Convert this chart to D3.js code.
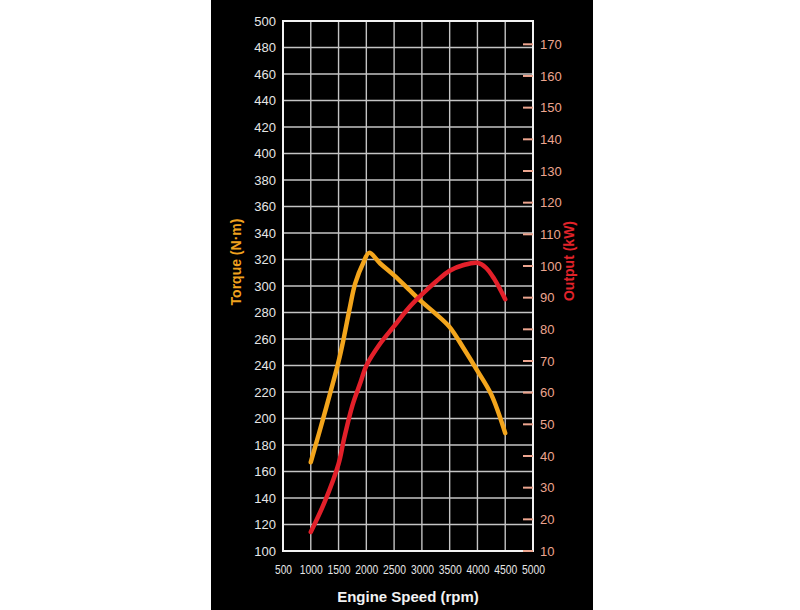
<!DOCTYPE html>
<html><head><meta charset="utf-8">
<script src="https://cdn.jsdelivr.net/npm/d3@7"></script>
<style>
html,body{margin:0;padding:0;background:#fff;}
svg{display:block;font-family:"Liberation Sans",Arial,Helvetica,sans-serif;}
</style></head>
<body>
<svg id="chart" width="800" height="610"></svg>
<script>
// ---- data ----
const rpmTicks = [500,1000,1500,2000,2500,3000,3500,4000,4500,5000];
const torqueTicks = [100,120,140,160,180,200,220,240,260,280,300,320,340,360,380,400,420,440,460,480,500];
const outputTicks = [10,20,30,40,50,60,70,80,90,100,110,120,130,140,150,160,170];
const torqueRpm = [1000,1250,1500,1600,1700,1800,1950,2050,2250,2500,2750,3000,3250,3500,3750,4000,4250,4500];
const torqueNm  = [167,204,243,262,283,302,318,325,317,308,298,288,279,269,253,236,218,189];
const outputRpm = [1000,1250,1500,1600,1750,1900,2000,2250,2500,2750,3000,3250,3500,3750,4000,4150,4300,4500];
const outputKw  = [16,25.5,37.5,45.5,56,63.5,68.5,75.5,81,86.5,91,95,98.5,100.3,101,99.5,96,89.5];

const svg = d3.select("#chart");
svg.append("rect").attr("x",211).attr("y",0).attr("width",382).attr("height",610).attr("fill","#000");

const L=283, R=533, T=21, B=551;
const x = d3.scaleLinear().domain([500,5000]).range([L,R]);
const yT = d3.scaleLinear().domain([100,500]).range([B,T]);
const yP = d3.scaleLinear().domain([10,170]).range([B,44.3]);

// grid
const g = svg.append("g");
g.selectAll("line.v").data(rpmTicks).join("line")
 .attr("x1",d=>x(d)).attr("x2",d=>x(d)).attr("y1",T).attr("y2",B)
 .attr("stroke","#c4c4c4").attr("stroke-width",1.4);
g.selectAll("line.h").data(torqueTicks).join("line")
 .attr("x1",L).attr("x2",R).attr("y1",d=>yT(d)).attr("y2",d=>yT(d))
 .attr("stroke","#c4c4c4").attr("stroke-width",1.4);
g.append("rect").attr("x",L).attr("y",T).attr("width",R-L).attr("height",B-T)
 .attr("fill","none").attr("stroke","#f2f2f2").attr("stroke-width",2);

// left axis
const la = svg.append("g").attr("transform",`translate(${L},0)`)
 .call(d3.axisLeft(yT).tickValues(torqueTicks).tickSize(0).tickPadding(7).tickFormat(d3.format("d")));
la.select(".domain").remove();
la.selectAll("text").attr("fill","#e6e6e6").style("font-size","13px");

// right axis
const ra = svg.append("g").attr("transform",`translate(${R},0)`)
 .call(d3.axisRight(yP).tickValues(outputTicks).tickSize(0).tickPadding(7).tickFormat(d3.format("d")));
ra.select(".domain").remove();
ra.selectAll("text").attr("fill","#eda58f").style("font-size","13px");
svg.selectAll("line.rt").data(outputTicks).join("line").attr("class","rt")
 .attr("x1",R-10).attr("x2",R).attr("y1",d=>yP(d)).attr("y2",d=>yP(d))
 .attr("stroke","#eda58f").attr("stroke-width",2);

// bottom axis
const ba = svg.append("g").attr("transform",`translate(0,${B})`)
 .call(d3.axisBottom(x).tickValues(rpmTicks).tickSize(0).tickPadding(14).tickFormat(d3.format("d")));
ba.select(".domain").remove();
ba.selectAll("text").attr("fill","#e6e6e6").style("font-size","12.5px")
 .attr("textLength",d=>d>=1000?23:17).attr("lengthAdjust","spacingAndGlyphs");

// titles
svg.append("text").attr("transform","translate(241,262) rotate(-90)")
 .attr("text-anchor","middle").attr("fill","#f0a21e").style("font-size","14px").style("font-weight","bold")
 .text("Torque (N·m)");
svg.append("text").attr("transform","translate(574,261) rotate(-90)")
 .attr("text-anchor","middle").attr("fill","#e2232a").style("font-size","14px").style("font-weight","bold")
 .text("Output (kW)");
svg.append("text").attr("x",408).attr("y",602)
 .attr("text-anchor","middle").attr("fill","#f2f2f2").style("font-size","15px").style("font-weight","bold")
 .text("Engine Speed (rpm)");

// curves
const tData = torqueRpm.map((r,i)=>[r,torqueNm[i]]);
const pData = outputRpm.map((r,i)=>[r,outputKw[i]]);
svg.append("path").datum(tData)
 .attr("d",d3.line().x(d=>x(d[0])).y(d=>yT(d[1])).curve(d3.curveCatmullRom.alpha(0.5)))
 .attr("fill","none").attr("stroke","#f3a51c").attr("stroke-width",4.5).attr("stroke-linecap","round").attr("stroke-linejoin","round");
svg.append("path").datum(pData)
 .attr("d",d3.line().x(d=>x(d[0])).y(d=>yP(d[1])).curve(d3.curveCatmullRom.alpha(0.5)))
 .attr("fill","none").attr("stroke","#e3202a").attr("stroke-width",4.5).attr("stroke-linecap","round").attr("stroke-linejoin","round");
</script>
</body></html>
